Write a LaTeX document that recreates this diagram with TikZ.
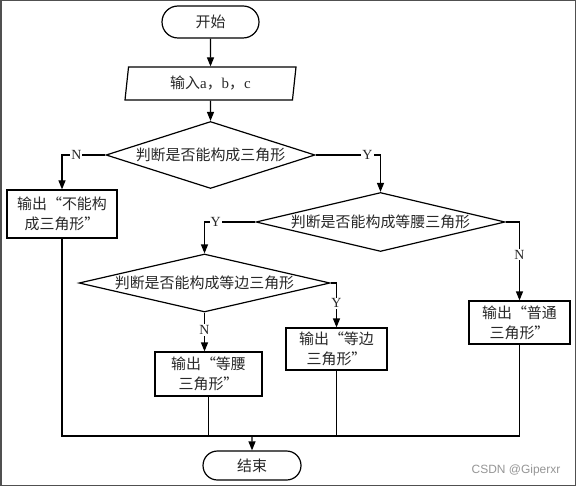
\documentclass[tikz,border=0pt]{standalone}
\usepackage{fontspec}
\setmainfont{Liberation Serif}
\newfontfamily\cjk{Noto Sans CJK SC}
\newfontfamily\wmfont{Liberation Sans}
\usetikzlibrary{shapes.geometric,shapes.misc,arrows.meta}
\definecolor{framegray}{RGB}{80,80,80}
\definecolor{txtgray}{RGB}{40,40,40}
\definecolor{wmgray}{RGB}{150,150,150}
\tikzset{
  base/.style={draw=black,line width=1.2bp,inner sep=0pt,text=txtgray,font=\cjk\fontsize{15}{20}\selectfont},
  term/.style={base,rounded rectangle},
  iobox/.style={base,trapezium,trapezium left angle=76,trapezium right angle=104,trapezium stretches body},
  decbox/.style={base,diamond},
  outbox/.style={base,rectangle,align=center},
  dtext/.style={inner sep=0pt,text=txtgray,font=\cjk\fontsize{15}{20}\selectfont},
  conn/.style={line width=1.2bp,draw=black},
  arr/.style={conn,-{Triangle[length=9bp,width=7bp]}},
  yn/.style={fill=white,inner sep=1pt,text=txtgray,font=\fontsize{14}{16}\selectfont},
}
\begin{document}
\begin{tikzpicture}[x=1bp,y=-1bp]
\useasboundingbox (0,0) rectangle (576,486);
\fill[white] (0,0) rectangle (576,486);
\draw[line width=1.5bp,framegray] (0.75,0.75) rectangle (575.25,485.25);

\node[term,minimum width=97bp,minimum height=32bp] (start) at (210.5,22) {开始};
\node[iobox,minimum width=171bp,minimum height=33bp] (input) at (210.5,83.5) {输入{\rmfamily a}，{\rmfamily b}，{\rmfamily c}};

\node[decbox,minimum width=209bp,minimum height=67bp] (d1) at (210.5,155) {};
\node[dtext] (d1t) at (d1) {判断是否能构成三角形};

\node[outbox,minimum width=110bp,minimum height=48bp] (b1) at (62,214) {输出“不能构\\成三角形”};

\node[decbox,minimum width=249bp,minimum height=59bp] (d2) at (380.5,222) {};
\node[dtext] (d2t) at (d2) {判断是否能构成等腰三角形};

\node[decbox,minimum width=251bp,minimum height=58bp] (d3) at (204.5,283) {};
\node[dtext] (d3t) at (d3) {判断是否能构成等边三角形};

\node[outbox,minimum width=107bp,minimum height=44bp] (b2) at (208.5,374) {输出“等腰\\三角形”};
\node[outbox,minimum width=101bp,minimum height=42bp] (b3) at (336.5,349) {输出“等边\\三角形”};
\node[outbox,minimum width=101bp,minimum height=43bp] (b4) at (519.5,322.5) {输出“普通\\三角形”};

\node[term,minimum width=98bp,minimum height=29bp] (end) at (252,465.5) {结束};

\coordinate (m) at (252,436);

\draw[arr] (start) -- (input);
\draw[arr] (input) -- (d1);
\draw[arr] (d1.west) -| node[yn,pos=0.335] {N} (b1.north);
\draw[arr] (d1.east) -| node[yn,pos=0.4] {Y} (d2.north);
\draw[arr] (d2.west) -| node[yn,pos=0.39] {Y} (d3.north);
\draw[arr] (d2.east) -| node[yn,pos=0.71] {N} (b4.north);
\draw[arr] (d3.south) -- node[yn,pos=0.45] {N} (d3.south |- b2.north);
\draw[arr] (d3.east) -| node[yn,pos=0.73] {Y} (b3.north);

\draw[conn] (b1.south) -- (b1.south |- m) -- (b4.south |- m) -- (b4.south);
\draw[conn] (b2.south) -- (b2.south |- m);
\draw[conn] (b3.south) -- (b3.south |- m);
\draw[arr] (m) -- (end);

\node[text=wmgray,font=\wmfont\fontsize{12}{14}\selectfont] (wm) at (516,470) {CSDN @Giperxr};
\end{tikzpicture}
\end{document}
